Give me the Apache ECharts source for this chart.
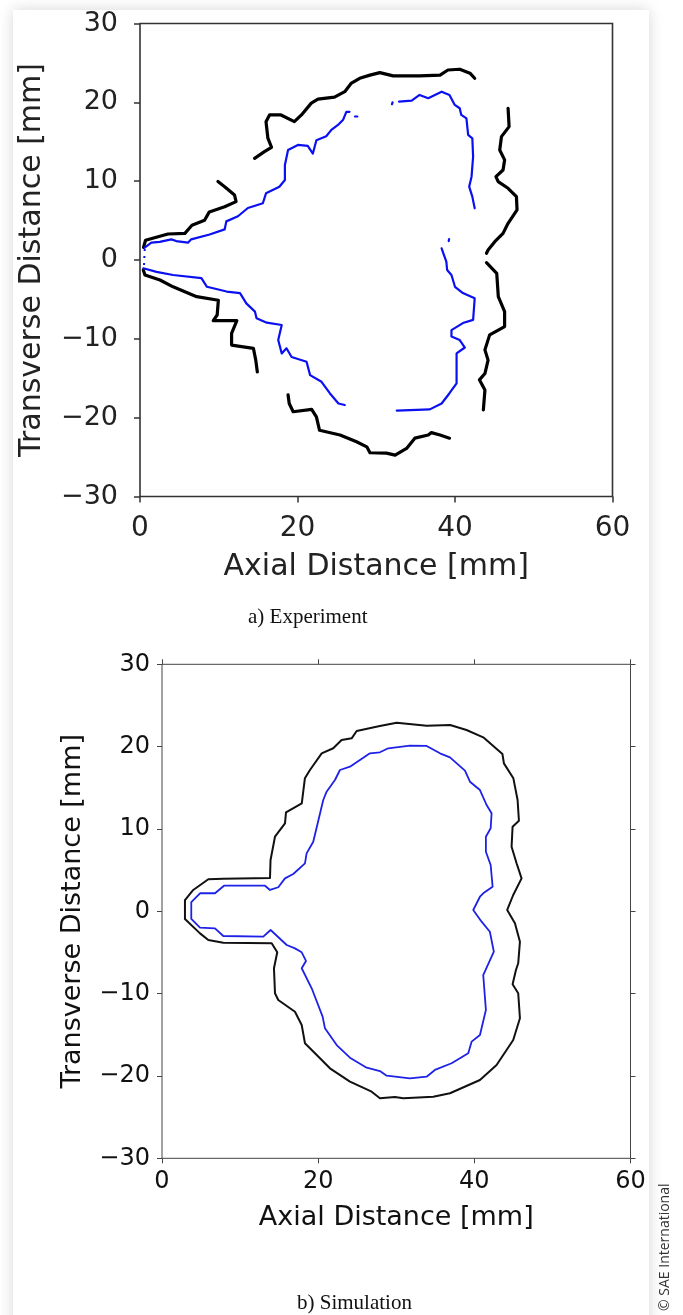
<!DOCTYPE html>
<html>
<head>
<meta charset="utf-8">
<title>Flame contour: experiment vs simulation</title>
<script src="https://cdn.jsdelivr.net/npm/echarts@6.0.0/dist/echarts.min.js"></script>
<style>
  html, body { margin: 0; padding: 0; background: #ffffff; }
  #chart { width: 683px; height: 1315px; }
</style>
</head>
<body>
<div id="chart"></div>
<script>
// Axis ticks shared by both panels (mm)
const xTicks = [0, 20, 40, 60];
const yTicks = [-30, -20, -10, 0, 10, 20, 30];

// a) Experiment: outer (black) contour pieces, [axial, transverse] in mm
const expOuterUpperLeft = [[0.45,1.6],[0.7,2.5],[2.3,2.95],[3.55,3.3],[5.7,3.38],[6.6,4.4],[8.2,5.05],[8.8,6.1],[10.75,6.75],[12.2,7.4],[12.0,8.25],[10.75,9.3],[9.9,9.95]];
const expOuterTop = [[14.55,12.9],[15.8,13.75],[16.7,14.3],[16.24,15.45],[16.0,17.55],[16.45,18.4],[17.9,18.4],[19.6,17.55],[20.5,18.4],[21.75,19.9],[22.6,20.4],[24.7,20.65],[26.0,21.35],[26.8,22.4],[27.9,23.05],[29.2,23.45],[30.45,23.77],[32.15,23.35],[35.5,23.35],[38.1,23.45],[39.1,24.1],[40.6,24.2],[41.9,23.7],[42.5,23.05]];
const expOuterRightUpper = [[46.74,19.25],[46.87,16.92],[45.9,15.65],[45.68,13.96],[46.3,12.7],[46.1,11.42],[45.2,10.57],[45.48,9.95],[46.74,9.1],[47.8,8.04],[47.88,6.35],[46.74,4.65],[46.1,3.38],[45.05,2.33],[44.2,1.27],[44.0,0.85]];
const expOuterRightLower = [[44.0,-0.34],[45.3,-1.7],[45.5,-4.65],[46.3,-6.55],[46.3,-8.45],[45.5,-8.9],[44.4,-9.5],[43.8,-11.4],[44.2,-12.7],[43.8,-14.4],[43.1,-15.2],[43.8,-16.5],[43.6,-19.0]];
const expOuterLowerLeft = [[0.42,-1.27],[0.63,-1.9],[2.54,-2.54],[4.2,-3.4],[7.2,-4.65],[9.95,-5.1],[9.8,-6.98],[9.3,-7.7],[12.3,-7.7],[11.63,-9.3],[11.63,-10.79],[14.4,-11.2],[14.7,-12.7],[14.9,-14.2]];
const expOuterBottom = [[18.8,-17.1],[18.95,-18.2],[19.45,-19.25],[21.8,-18.95],[22.4,-19.9],[22.8,-21.6],[25.4,-22.2],[27.5,-23.05],[28.8,-23.7],[29.2,-24.45],[31.3,-24.5],[32.4,-24.75],[33.85,-23.9],[34.9,-22.6],[36.6,-22.2],[37.0,-21.9],[38.1,-22.2],[39.3,-22.6]];

// a) Experiment: inner (blue) contour pieces
const expInnerUpperLeft = [[0.59,1.57],[1.44,2.2],[2.5,2.3],[3.98,2.62],[4.6,2.4],[6.09,2.2],[6.5,2.62],[8.84,3.24],[10.75,3.88],[10.96,4.9],[12.44,5.55],[13.7,6.6],[15.6,7.2],[16.0,8.46],[17.7,9.3],[18.4,10.15],[18.4,12.05],[18.8,13.96],[20.05,14.6],[21.3,14.47],[21.95,13.5],[22.4,15.2],[23.65,15.7],[24.3,16.5],[25.1,17.1],[25.8,17.8],[26.2,18.8],[26.6,18.8]];
const expInnerSpeckA = [[27.3,18.2],[27.6,18.2]];
const expInnerSpeckB = [[32.0,19.75],[32.07,20.0]];
const expInnerUpperRight = [[32.9,20.1],[34.5,20.22],[35.5,20.94],[36.6,20.52],[38.3,21.35],[39.3,20.94],[39.97,19.67],[40.6,19.25],[40.8,18.4],[41.45,17.97],[41.67,15.86],[42.2,15.44],[42.3,13.11],[42.1,10.57],[41.8,9.3],[42.2,8.04],[42.5,6.56]];
const expInnerSpeckC = [[39.2,2.4],[39.25,2.65]];
const expInnerRightLower = [[38.3,1.48],[38.6,0.63],[38.9,-0.21],[39.0,-1.27],[39.55,-1.9],[40.0,-3.4],[41.0,-4.2],[42.5,-4.86],[42.3,-7.6],[41.0,-8.0],[39.55,-8.9],[39.55,-9.7],[40.6,-10.15],[41.25,-11.1],[40.2,-11.85],[40.2,-15.65],[39.3,-16.9],[38.3,-18.2],[36.8,-18.95],[32.6,-19.1]];
const expInnerLowerLeft = [[0.42,-1.05],[2.1,-1.5],[4.2,-1.9],[7.8,-2.3],[8.5,-3.4],[11.0,-4.0],[12.7,-4.2],[13.5,-5.5],[14.6,-6.55],[14.8,-7.4],[16.1,-7.95],[18.0,-8.25],[17.55,-10.15],[18.0,-11.85],[18.6,-11.2],[19.25,-12.3],[21.15,-12.9],[21.6,-14.6],[23.05,-15.45],[24.1,-16.9],[25.2,-18.2],[26.0,-18.4]];
const expInnerNozzle = [[0.6,1.4],[0.5,-0.9]];

// b) Simulation: closed outer (black) and inner (blue) contours
const simOuter = [[2.94,1.37],[4.0,2.59],[5.93,3.89],[7.85,3.96],[13.83,4.04],[13.9,6.23],[14.47,9.06],[15.75,10.69],[15.88,12.02],[17.9,13.12],[18.3,16.15],[18.95,17.16],[20.45,19.19],[21.93,19.8],[23.0,20.81],[24.29,21.01],[24.93,21.9],[27.9,22.51],[30.05,22.91],[33.9,22.54],[36.9,22.63],[39.0,22.02],[41.14,21.13],[43.6,19.1],[43.79,17.97],[45.0,16.15],[45.54,13.52],[45.71,11.0],[44.9,10.28],[44.77,7.85],[45.41,5.83],[46.05,4.0],[44.98,1.98],[44.21,0.16],[45.2,-1.46],[45.84,-3.69],[45.62,-6.31],[45.33,-7.13],[44.9,-8.87],[45.62,-9.96],[45.84,-12.99],[44.98,-15.63],[42.85,-18.67],[40.72,-20.49],[36.88,-22.1],[34.74,-22.52],[30.9,-22.71],[29.83,-22.55],[27.91,-22.71],[26.85,-21.91],[24.07,-20.69],[21.51,-19.07],[18.31,-16.03],[17.89,-13.81],[17.03,-12.2],[14.89,-10.77],[14.47,-9.96],[14.34,-6.92],[14.76,-4.98],[14.05,-3.89],[7.85,-3.81],[5.93,-3.49],[4.87,-2.68],[2.94,-0.93],[2.94,1.37]];
const simInner = [[3.75,1.1],[4.87,2.19],[6.79,2.19],[7.94,3.11],[13.19,3.11],[13.83,2.59],[14.89,2.92],[15.75,4.0],[16.81,4.53],[18.31,5.83],[18.52,7.04],[19.37,8.45],[20.65,13.52],[21.08,14.53],[22.15,15.95],[22.79,17.16],[24.07,17.56],[26.63,19.19],[27.91,19.31],[28.98,19.8],[31.75,20.12],[33.89,20.08],[35.6,19.19],[36.88,18.7],[38.8,17.08],[39.44,15.74],[40.72,14.73],[41.57,12.91],[42.21,11.9],[42.09,10.08],[41.48,9.06],[41.48,7.24],[42.09,5.62],[42.34,2.99],[41.14,2.19],[40.72,1.77],[39.86,0.16],[40.93,-1.26],[41.99,-2.48],[42.5,-4.91],[41.14,-7.75],[41.48,-11.98],[40.72,-15.02],[39.65,-15.83],[39.22,-17.25],[37.09,-18.46],[34.95,-19.27],[33.89,-20.09],[31.75,-20.29],[28.77,-19.97],[27.91,-19.4],[26.21,-19.0],[24.07,-17.78],[22.37,-16.25],[20.87,-14.21],[20.57,-12.8],[19.17,-9.35],[17.89,-6.92],[18.44,-6.03],[17.89,-4.98],[17.03,-4.5],[15.97,-4.09],[13.91,-2.27],[12.97,-3.08],[7.85,-3.0],[6.79,-2.07],[4.87,-1.99],[3.75,-0.93],[3.75,1.1]];

const FONT = 'DejaVu Sans';
const minusFmt = v => (v < 0 ? '\u2212' + Math.abs(v) : String(v));

function valueAxis(opts) {
  return Object.assign({
    type: 'value', min: -30, max: 30, interval: 10,
    axisLine: { show: false, onZero: false },
    splitLine: { show: false },
    axisTick: { show: true, inside: false, length: 6, lineStyle: { color: '#333', width: 1.5 } },
    axisLabel: { show: true, fontFamily: FONT, color: '#222', formatter: minusFmt }
  }, opts);
}

function line(data, color, width, xi, yi, extra) {
  return Object.assign({
    type: 'line', data: data, xAxisIndex: xi, yAxisIndex: yi,
    showSymbol: false, symbol: 'none', smooth: false, silent: true,
    lineStyle: { color: color, width: width, join: 'round', cap: 'round' },
    z: 3
  }, extra || {});
}

const BLACK = '#000000';
const BLUE = '#0a10f0';

const chart = echarts.init(document.getElementById('chart'), null, { renderer: 'canvas', width: 683, height: 1315 });

chart.setOption({
  animation: false,
  backgroundColor: '#ffffff',
  graphic: [
    { type: 'rect', z: -10, shape: { x: 13, y: 10, width: 636, height: 1330 },
      style: { fill: '#ffffff', shadowBlur: 14, shadowColor: 'rgba(0,0,0,0.16)' } },
    { type: 'text', left: 248, top: 607,
      style: { text: 'a) Experiment', font: '21px "Liberation Serif", "Times New Roman", serif', fill: '#111' } },
    { type: 'text', left: 297, top: 1293,
      style: { text: 'b) Simulation', font: '21px "Liberation Serif", "Times New Roman", serif', fill: '#111' } },
    { type: 'text', x: 658, y: 1311, rotation: Math.PI / 2,
      style: { text: '\u00a9 SAE International', font: '14px "Open Sans", "Noto Sans", sans-serif', fill: '#333' } }
  ],
  grid: [
    { left: 140, top: 23.5, width: 472.5, height: 473, show: true, borderColor: '#333', borderWidth: 1.6, backgroundColor: 'transparent', outerBoundsMode: 'none' },
    { left: 162, top: 664.3, width: 468.5, height: 494, show: true, borderColor: '#444', borderWidth: 1, backgroundColor: 'transparent', outerBoundsMode: 'none' }
  ],
  xAxis: [
    valueAxis({ gridIndex: 0, min: 0, max: 60, interval: 20, position: 'bottom',
      axisLabel: { fontFamily: FONT, color: '#222', fontSize: 28, margin: 18 },
      name: 'Axial Distance [mm]', nameLocation: 'middle', nameGap: 56,
      nameTextStyle: { fontFamily: FONT, fontSize: 30, color: '#222' } }),
    valueAxis({ gridIndex: 1, min: 0, max: 60, interval: 20, position: 'bottom',
      axisTick: { show: true, inside: false, length: 5, lineStyle: { color: '#444', width: 1 } },
      axisLabel: { fontFamily: FONT, color: '#111', fontSize: 24, margin: 11 },
      name: 'Axial Distance [mm]', nameLocation: 'middle', nameGap: 46,
      nameTextStyle: { fontFamily: FONT, fontSize: 27, color: '#111' } }),
    valueAxis({ gridIndex: 1, min: 0, max: 60, interval: 20, position: 'top',
      axisTick: { show: true, inside: false, length: 5, lineStyle: { color: '#444', width: 1 } },
      axisLabel: { show: false } })
  ],
  yAxis: [
    valueAxis({ gridIndex: 0, position: 'left',
      axisLabel: { fontFamily: FONT, color: '#222', fontSize: 27, margin: 22, formatter: minusFmt },
      name: 'Transverse Distance [mm]', nameLocation: 'middle', nameGap: 93,
      nameTextStyle: { fontFamily: FONT, fontSize: 30, color: '#222' } }),
    valueAxis({ gridIndex: 1, position: 'left',
      axisTick: { show: true, inside: false, length: 5, lineStyle: { color: '#444', width: 1 } },
      axisLabel: { fontFamily: FONT, color: '#111', fontSize: 24, margin: 12, formatter: minusFmt },
      name: 'Transverse Distance [mm]', nameLocation: 'middle', nameGap: 76,
      nameTextStyle: { fontFamily: FONT, fontSize: 27, color: '#111' } }),
    valueAxis({ gridIndex: 1, position: 'right',
      axisTick: { show: true, inside: false, length: 5, lineStyle: { color: '#444', width: 1 } },
      axisLabel: { show: false } })
  ],
  series: [
    line(expOuterUpperLeft, BLACK, 3.2, 0, 0),
    line(expOuterTop, BLACK, 3.2, 0, 0),
    line(expOuterRightUpper, BLACK, 3.2, 0, 0),
    line(expOuterRightLower, BLACK, 3.2, 0, 0),
    line(expOuterLowerLeft, BLACK, 3.2, 0, 0),
    line(expOuterBottom, BLACK, 3.2, 0, 0),
    line(expInnerUpperLeft, BLUE, 2.2, 0, 0),
    line(expInnerSpeckA, BLUE, 2.2, 0, 0),
    line(expInnerSpeckB, BLUE, 2.2, 0, 0),
    line(expInnerUpperRight, BLUE, 2.2, 0, 0),
    line(expInnerSpeckC, BLUE, 2.2, 0, 0),
    line(expInnerRightLower, BLUE, 2.2, 0, 0),
    line(expInnerLowerLeft, BLUE, 2.2, 0, 0),
    line(expInnerNozzle, BLUE, 2, 0, 0, { lineStyle: { color: BLUE, width: 2, type: [2, 5] } }),
    line(simOuter, '#111111', 2, 1, 1),
    line(simInner, '#1e22e6', 1.8, 1, 1)
  ]
});
</script>
</body>
</html>
